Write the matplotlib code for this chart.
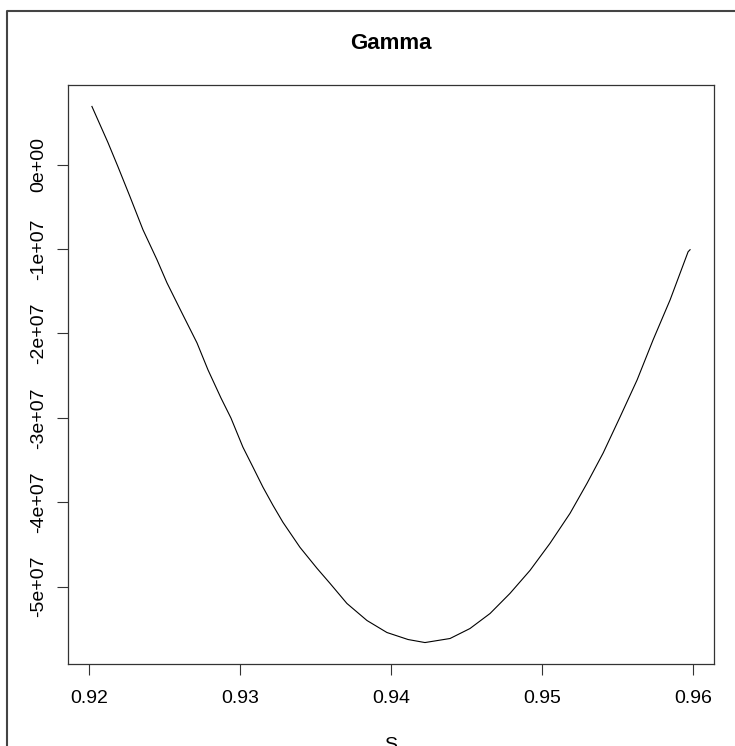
import matplotlib
matplotlib.use('Agg')
import matplotlib.pyplot as plt
from matplotlib.lines import Line2D

plt.rcParams['font.family'] = ['Liberation Sans', 'DejaVu Sans']

# curve (gamma vs S), y in units of 1e7
s_vals = [0.92020, 0.92126, 0.92192, 0.92272, 0.92358, 0.92451, 0.92517, 0.92616,
          0.92716, 0.92789, 0.92875, 0.92941, 0.93020, 0.93087, 0.93153, 0.93219,
          0.93285, 0.93398, 0.93511, 0.93597, 0.93709, 0.93842, 0.93974, 0.94114,
          0.94226, 0.94392, 0.94524, 0.94657, 0.94789, 0.94922, 0.95054, 0.95187,
          0.95300, 0.95406, 0.95518, 0.95631, 0.95737, 0.95850, 0.95969, 0.95982]
gamma_e7 = [0.688, 0.261, -0.024, -0.380, -0.772, -1.128, -1.401, -1.757,
            -2.113, -2.433, -2.766, -3.003, -3.347, -3.585, -3.822, -4.036,
            -4.237, -4.534, -4.783, -4.961, -5.199, -5.401, -5.543, -5.626,
            -5.662, -5.614, -5.496, -5.318, -5.080, -4.807, -4.487, -4.131,
            -3.774, -3.418, -2.991, -2.552, -2.077, -1.602, -1.033, -1.009]
gamma = [g * 1e7 for g in gamma_e7]

xticks = [0.92, 0.93, 0.94, 0.95, 0.96]
yticks = [0, -1e7, -2e7, -3e7, -4e7, -5e7]
ytick_labels = ['0e+00', '-1e+07', '-2e+07', '-3e+07', '-4e+07', '-5e+07']

fig = plt.figure(figsize=(7.35, 7.46), dpi=100)
ax = fig.add_axes([68/735, 1 - 664/746, (714-68)/735, (664-85)/746])

ax.plot(s_vals, gamma, color='black', lw=0.8)

# R style 4% padding
xr = max(s_vals) - min(s_vals)
yr = max(gamma) - min(gamma)
ax.set_xlim(min(s_vals) - 0.04*xr, max(s_vals) + 0.04*xr)
ax.set_ylim(min(gamma) - 0.04*yr, max(gamma) + 0.04*yr)

ax.set_xticks(xticks)
ax.set_xticklabels(['0.92', '0.93', '0.94', '0.95', '0.96'])
ax.set_yticks(yticks)
ax.set_yticklabels(ytick_labels, rotation=90, va='center')

ax.tick_params(axis='both', length=8, width=0.8, labelsize=14, color='#333333')
ax.tick_params(axis='x', pad=11)
ax.tick_params(axis='y', pad=7)
for sp in ax.spines.values():
    sp.set_linewidth(0.9)
    sp.set_color('#333333')

ax.set_title('Gamma', fontsize=16, fontweight='bold', pad=26)
ax.set_xlabel('S', fontsize=14, labelpad=21)

# outer frame of the screenshot
fig.add_artist(Line2D([7.5/735, 7.5/735, 1.0], [0.0, 1 - 11/746, 1 - 11/746],
                      transform=fig.transFigure, color='#444444', lw=1.5))

fig.savefig('out.png', dpi=100)
